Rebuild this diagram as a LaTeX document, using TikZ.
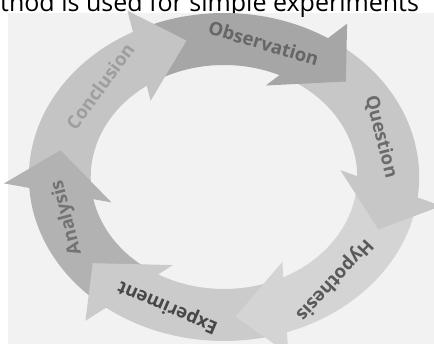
\documentclass[tikz,border=0pt]{standalone}
\usepackage{fontspec}
\setmainfont{Open Sans}
\usetikzlibrary{positioning}
\definecolor{backfill}{RGB}{242,242,242}
\definecolor{obsfill}{RGB}{166,166,166}
\definecolor{quefill}{RGB}{199,199,199}
\definecolor{hypfill}{RGB}{212,212,212}
\definecolor{expfill}{RGB}{203,203,203}
\definecolor{anafill}{RGB}{178,178,178}
\definecolor{confill}{RGB}{196,196,196}
\tikzset{steptext/.style = {font = \fontsize{18.5}{22}\selectfont\bfseries,
                            inner sep = 0pt}}

\begin{document}
\begin{tikzpicture}[x = 1pt, y = 1pt]
    \useasboundingbox (0, 0) rectangle (434, 344);
    \fill [white] (0, 0) rectangle (434, 344);
    \fill [backfill] (8, 0) rectangle (434, 331);
    \node [anchor = base west, inner sep = 0pt,
           font = \fontsize{25}{30}\selectfont] (title) at (0, 332)
          {thod is used for simple experiments};

    \begin{scope}[shift = {(224, 167)}, xscale = 1.19]
      % bands, tip angle / tip angle of the arrow before / colour
      \foreach \t/\p/\c in {43/103/obsfill, -22/43/quefill, -86/-22/hypfill,
                            -142/-86/expfill, -191/-142/anafill, -257/-191/confill}
        \fill [\c] ({\p+13.5}:164) arc [start angle = \p+13.5, end angle = \t+11, radius = 164]
                   -- ({\t+17}:112) arc [start angle = \t+17, end angle = \p+20, radius = 112]
                   -- cycle;

      % heads on top
      \foreach \t/\c in {43/obsfill, -22/quefill, -86/hypfill,
                         -142/expfill, -191/anafill, -257/confill}
        \fill [\c] (\t:140) -- ({\t+13}:185) -- ({\t+26}:98) -- cycle;

      \foreach \n/\a/\c/\s in {observation/76/black!60/Observation,
                               question/17/black!58/Question,
                               hypothesis/-48/black!65/Hypothesis,
                               experiment/-110/black!72/Experiment,
                               analysis/-163/black!55/Analysis,
                               conclusion/139/black!38/Conclusion}
        \node [steptext, text = \c, rotate = {atan2(sin(\a), 1.19*cos(\a)) - 90}]
              (\n) at (\a:138) {\s};
    \end{scope}
\end{tikzpicture}
\end{document}
